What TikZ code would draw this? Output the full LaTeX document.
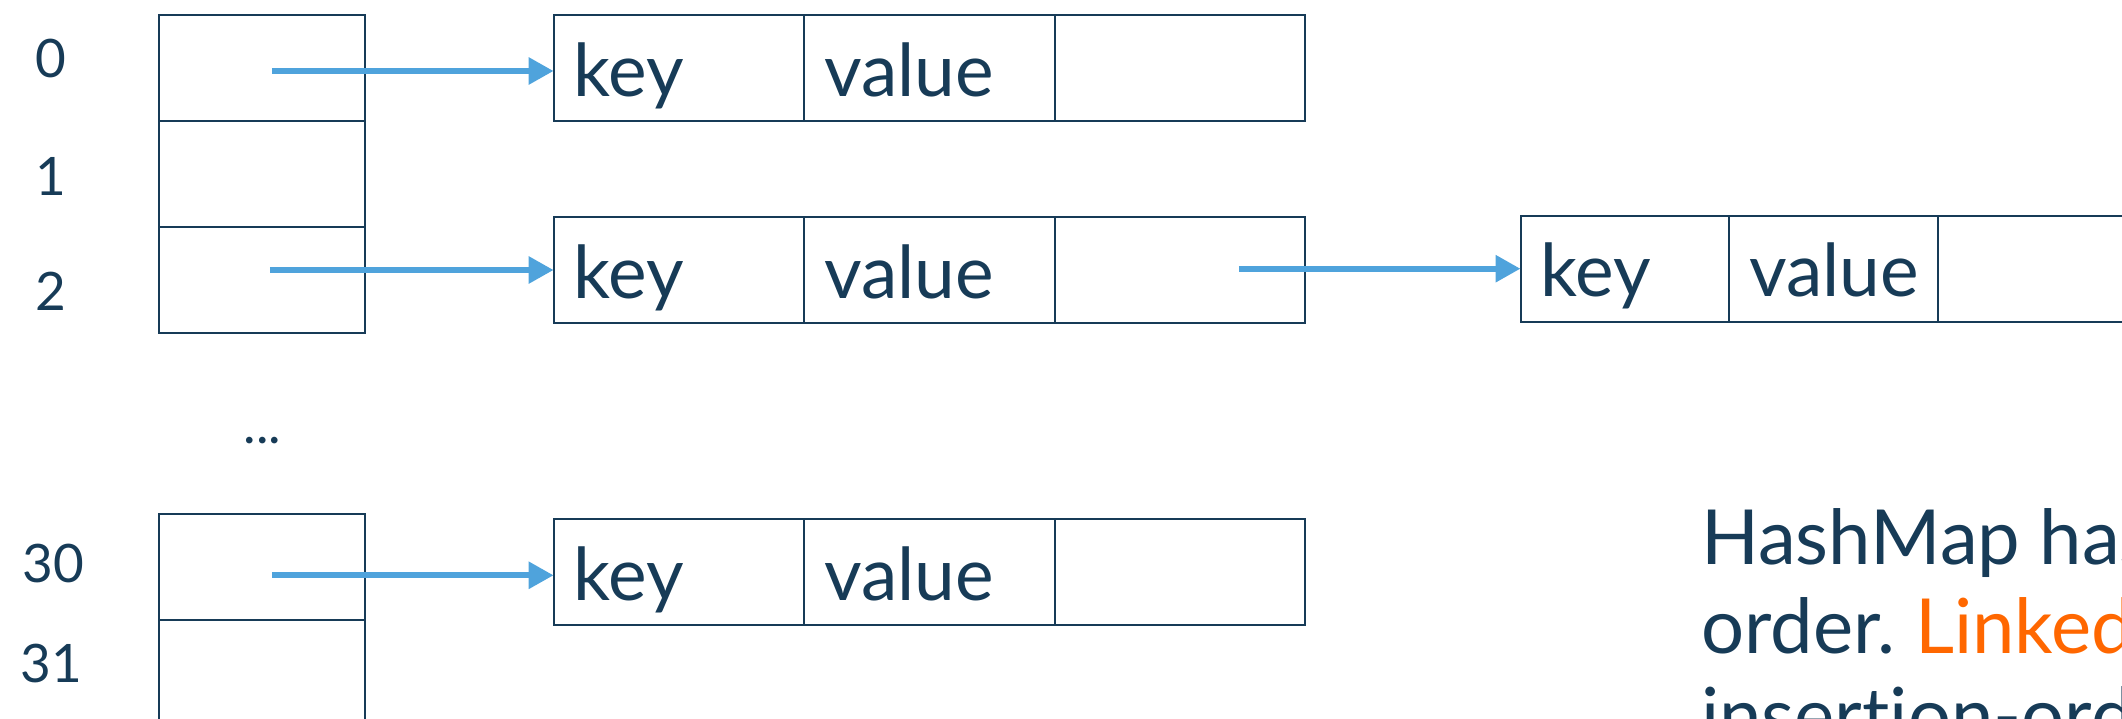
\documentclass[tikz,border=0pt]{standalone}
\usepackage{fontspec}
\setmainfont{Lato}[Ligatures={NoCommon}]
\usetikzlibrary{arrows.meta,calc}
\definecolor{navy}{RGB}{23,59,87}
\definecolor{ptrblue}{RGB}{79,163,220}
\definecolor{accent}{RGB}{255,103,0}
\frenchspacing

\begin{document}
\begin{tikzpicture}[x=1pt,y=-1pt,
  cell/.style={draw=navy,line width=2pt,rectangle,inner sep=0pt,outer sep=0pt,
               anchor=north west,minimum height=106pt},
  bucket/.style={cell,minimum width=206.7pt},
  kvcell/.style={cell,minimum width=250.5pt},
  kvsmall/.style={cell,minimum width=208.5pt,minimum height=105.7pt},
  celltext/.style={anchor=base west,inner sep=0pt,text=navy,font=\fontsize{73}{80}\selectfont},
  idx/.style={text=navy,font=\fontsize{53}{60}\selectfont,inner sep=0pt},
  note/.style={anchor=base west,inner sep=0pt,text=navy,font=\fontsize{76}{89}\selectfont},
  ptr/.style={draw=ptrblue,line width=6pt,-{Triangle[length=25pt,width=26pt]}},
]
\useasboundingbox (0,0) rectangle (2122,719);
\clip (0,0) rectangle (2122,719);

% bucket array, upper part
\node[bucket] (b0) at (158.5,15) {};
\node[bucket] (b1) at (b0.south west) {};
\node[bucket] (b2) at (b1.south west) {};
% bucket array, lower part
\node[bucket] (b30) at (158.5,514.3) {};
\node[bucket] (b31) at (b30.south west) {};

% bucket indices
\node[idx] (i0)  at (51,59)    {0};
\node[idx] (i1)  at (51,176)   {1};
\node[idx] (i2)  at (51,291)   {2};
\node[idx] (gap) at (262.3,441) {...};
\node[idx] (i30) at (53,563.3) {30};
\node[idx] (i31) at (51,663.3) {31};

% entry in bucket 0
\node[kvcell] (k0) at (553.6,15) {};
\node[kvcell] (v0) at (k0.north east) {};
\node[kvcell] (n0) at (v0.north east) {};
\node[celltext] (k0t) at ($(k0.north west)+(20,81.5)$) {key};
\node[celltext] (v0t) at ($(v0.north west)+(20,81.5)$) {value};

% entry in bucket 2
\node[kvcell] (k2) at (553.6,216.7) {};
\node[kvcell] (v2) at (k2.north east) {};
\node[kvcell] (n2) at (v2.north east) {};
\node[celltext] (k2t) at ($(k2.north west)+(20,81.5)$) {key};
\node[celltext] (v2t) at ($(v2.north west)+(20,81.5)$) {value};

% next entry chained from bucket 2
\node[kvsmall] (kk) at (1520.5,216) {};
\node[kvsmall] (vv) at (kk.north east) {};
\node[kvsmall] (nn) at (vv.north east) {};
\node[celltext] (kkt) at ($(kk.north west)+(20,81)$) {key};
\node[celltext] (vvt) at ($(vv.north west)+(20,81)$) {value};

% entry in bucket 30
\node[kvcell] (k30) at (553.6,519.3) {};
\node[kvcell] (v30) at (k30.north east) {};
\node[kvcell] (n30) at (v30.north east) {};
\node[celltext] (k30t) at ($(k30.north west)+(20,81)$) {key};
\node[celltext] (v30t) at ($(v30.north west)+(20,81)$) {value};

% pointers
\coordinate (s0)  at ($(b0.center)+(10,3)$);
\coordinate (s2)  at ($(b2.center)+(8,-10)$);
\coordinate (s30) at ($(b30.center)+(10,8)$);
\coordinate (sn)  at ($(n2.center)+(59,-1)$);
\draw[ptr] (s0)  -- (s0 -| k0.west);
\draw[ptr] (s2)  -- (s2 -| k2.west);
\draw[ptr] (s30) -- (s30 -| k30.west);
\draw[ptr] (sn)  -- (sn -| kk.west);

% explanation
\node[note] (l1) at (1701,564.3) {HashMap has no};
\node[note] (l2) at (1701,653.3) {order. \textcolor{accent}{LinkedHashMap}};
\node[note] (l3) at (1701,742.3) {insertion-order};
\end{tikzpicture}
\end{document}
